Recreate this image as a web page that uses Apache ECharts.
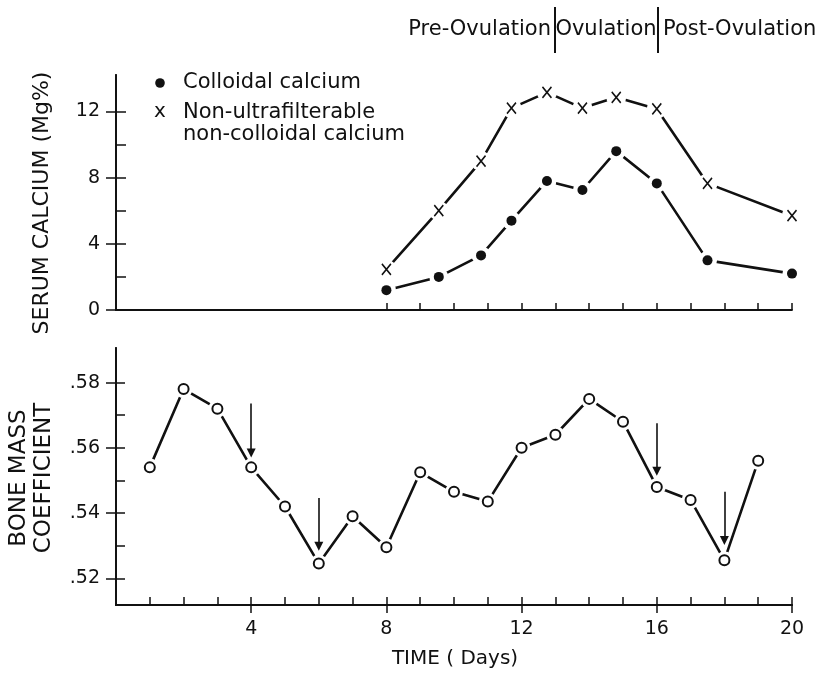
<!DOCTYPE html>
<html>
<head>
<meta charset="utf-8">
<script src="https://cdn.jsdelivr.net/npm/echarts@6/dist/echarts.min.js"></script>
<style>
  html, body { margin: 0; padding: 0; background: #fff; }
  #chart { width: 834px; height: 673px; }
</style>
</head>
<body>
<div id="chart"></div>
<script>
// top panel: serum calcium (Mg%)
const topDays = [8, 9.55, 10.8, 11.7, 12.75, 13.8, 14.8, 16, 17.5, 20];
const colloidal = [1.2, 2.0, 3.3, 5.4, 7.8, 7.25, 9.6, 7.65, 3.0, 2.2];
const nonColloidal = [2.45, 6.0, 9.0, 12.2, 13.15, 12.2, 12.85, 12.15, 7.65, 5.7];

// bottom panel: bone mass coefficient
const boneDays = [1, 2, 3, 4, 5, 6, 7, 8, 9, 10, 11, 12, 13, 14, 15, 16, 17, 18, 19];
const boneMass = [0.554, 0.578, 0.572, 0.554, 0.542, 0.5245, 0.539, 0.5295, 0.5525, 0.5465,
                  0.5435, 0.560, 0.564, 0.575, 0.568, 0.548, 0.544, 0.5255, 0.556];

// arrows above selected days
const arrowDays = [4, 6, 16, 18];
const arrowTop = [0.5736, 0.5446, 0.5675, 0.5465];
const arrowTip = [0.5584, 0.5298, 0.5528, 0.5316];

// ticks / labels
const topYLabels = [0, 4, 8, 12];
const topYMinor = [2, 4, 6, 8, 10, 12];
const topXTicks = [8, 9, 10, 11, 12, 13, 14, 15, 16, 17, 18, 19, 20];
const boneYLabels = [0.52, 0.54, 0.56, 0.58];
const boneYMinor = [0.52, 0.53, 0.54, 0.55, 0.56, 0.57, 0.58];
const xLabels = [4, 8, 12, 16, 20];
const xMinor = [1, 2, 3, 4, 5, 6, 7, 8, 9, 10, 11, 12, 13, 14, 15, 16, 17, 18, 19, 20];
const phases = ['Pre-Ovulation', 'Ovulation', 'Post-Ovulation'];

const FONT = 'DejaVu Sans';
const INK = '#111';

const zip = (xs, ys) => xs.map((x, i) => [x, ys[i]]);
const xPath = 'path://M0,0L9,11M9,0L0,11';

var myChart = echarts.init(document.getElementById('chart'));

var axisLine = { show: true, onZero: false, lineStyle: { color: INK, width: 1.8 } };

var option = {
  animation: false,
  backgroundColor: '#fff',
  grid: [
    { left: 116, top: 75, width: 676, height: 235 },
    { left: 116, top: 348, width: 676, height: 257 }
  ],
  xAxis: [
    { // top panel x (no labels)
      type: 'value', gridIndex: 0, min: 0, max: 20, position: 'bottom',
      axisLine: axisLine,
      axisTick: { show: true, inside: true, length: 7, customValues: topXTicks, lineStyle: { color: INK, width: 1.5 } },
      axisLabel: { show: false },
      splitLine: { show: false }
    },
    { // bottom panel x, minor ticks inside
      type: 'value', gridIndex: 1, min: 0, max: 20, position: 'bottom',
      axisLine: axisLine,
      axisTick: { show: true, inside: true, length: 8, customValues: xMinor, lineStyle: { color: INK, width: 1.5 } },
      axisLabel: { show: false },
      splitLine: { show: false }
    },
    { // bottom panel x, major ticks outside + labels
      type: 'value', gridIndex: 1, min: 0, max: 20, position: 'bottom',
      axisLine: axisLine,
      axisTick: { show: true, inside: false, length: 8, customValues: xLabels, lineStyle: { color: INK, width: 1.5 } },
      axisLabel: { show: true, customValues: xLabels, margin: 15, color: INK, fontFamily: FONT, fontSize: 19 },
      splitLine: { show: false }
    }
  ],
  yAxis: [
    {
      type: 'value', gridIndex: 0, min: 0, max: 14.2, position: 'left',
      axisLine: axisLine,
      axisTick: { show: true, inside: true, length: 10, customValues: topYMinor, lineStyle: { color: INK, width: 1.5 } },
      axisLabel: { show: false },
      splitLine: { show: false }
    },
    {
      type: 'value', gridIndex: 0, min: 0, max: 14.2, position: 'left',
      axisLine: axisLine,
      axisTick: { show: true, inside: false, length: 10, customValues: topYLabels, lineStyle: { color: INK, width: 1.5 } },
      axisLabel: { show: true, customValues: topYLabels, margin: 16, color: INK, fontFamily: FONT, fontSize: 19 },
      splitLine: { show: false }
    },
    {
      type: 'value', gridIndex: 1, min: 0.5118, max: 0.5906, position: 'left',
      axisLine: axisLine,
      axisTick: { show: true, inside: true, length: 9, customValues: boneYMinor, lineStyle: { color: INK, width: 1.5 } },
      axisLabel: { show: false },
      splitLine: { show: false }
    },
    {
      type: 'value', gridIndex: 1, min: 0.5118, max: 0.5906, position: 'left',
      axisLine: axisLine,
      axisTick: { show: true, inside: false, length: 10, customValues: boneYLabels, lineStyle: { color: INK, width: 1.5 } },
      axisLabel: {
        show: true, customValues: boneYLabels, margin: 16, color: INK, fontFamily: FONT, fontSize: 19,
        formatter: function (v) { return v.toFixed(2).slice(1); }
      },
      splitLine: { show: false }
    }
  ],
  graphic: [
    // phase header
    { type: 'text', x: 551, y: 30, style: { text: phases[0], textAlign: 'right', textVerticalAlign: 'middle', font: '21px "DejaVu Sans"', fill: INK } },
    { type: 'text', x: 606, y: 30, style: { text: phases[1], textAlign: 'center', textVerticalAlign: 'middle', font: '21px "DejaVu Sans"', fill: INK } },
    { type: 'text', x: 663, y: 30, style: { text: phases[2], textAlign: 'left', textVerticalAlign: 'middle', font: '21px "DejaVu Sans"', fill: INK } },
    { type: 'line', shape: { x1: 555, y1: 7, x2: 555, y2: 53 }, style: { stroke: INK, lineWidth: 2 } },
    { type: 'line', shape: { x1: 658, y1: 7, x2: 658, y2: 53 }, style: { stroke: INK, lineWidth: 2 } },
    // legend
    { type: 'circle', shape: { cx: 160, cy: 83, r: 4.8 }, style: { fill: INK } },
    { type: 'text', x: 183, y: 83, style: { text: 'Colloidal calcium', textVerticalAlign: 'middle', font: '21px "DejaVu Sans"', fill: INK } },
    { type: 'text', x: 160, y: 112, style: { text: 'x', textAlign: 'center', textVerticalAlign: 'middle', font: '20px "DejaVu Sans"', fill: INK } },
    { type: 'text', x: 183, y: 102, style: { text: 'Non-ultrafilterable\nnon-colloidal calcium', textVerticalAlign: 'top', lineHeight: 22, font: '21px "DejaVu Sans"', fill: INK } },
    // axis titles
    { type: 'text', x: 42, y: 203, rotation: Math.PI / 2, style: { text: 'SERUM CALCIUM (Mg%)', textAlign: 'center', textVerticalAlign: 'middle', font: '22px "DejaVu Sans"', fill: INK } },
    { type: 'text', x: 32, y: 478, rotation: Math.PI / 2, style: { text: 'BONE MASS\nCOEFFICIENT', textAlign: 'center', textVerticalAlign: 'middle', lineHeight: 25, font: '23px "DejaVu Sans"', fill: INK } },
    { type: 'text', x: 455, y: 659, style: { text: 'TIME ( Days)', textAlign: 'center', textVerticalAlign: 'middle', font: '20px "DejaVu Sans"', fill: INK } }
  ],
  series: [
    // top panel lines
    { type: 'line', xAxisIndex: 0, yAxisIndex: 0, data: zip(topDays, colloidal), symbol: 'none', z: 2, silent: true,
      lineStyle: { color: INK, width: 2.6 } },
    { type: 'line', xAxisIndex: 0, yAxisIndex: 0, data: zip(topDays, nonColloidal), symbol: 'none', z: 2, silent: true,
      lineStyle: { color: INK, width: 2.6 } },
    // white gaps around markers
    { type: 'scatter', xAxisIndex: 0, yAxisIndex: 0, data: zip(topDays, colloidal), symbol: 'circle', symbolSize: 19, z: 3, silent: true,
      itemStyle: { color: '#fff', opacity: 1 } },
    { type: 'scatter', xAxisIndex: 0, yAxisIndex: 0, data: zip(topDays, nonColloidal), symbol: 'circle', symbolSize: 20, z: 3, silent: true,
      itemStyle: { color: '#fff', opacity: 1 } },
    // markers
    { type: 'scatter', xAxisIndex: 0, yAxisIndex: 0, data: zip(topDays, colloidal), symbol: 'circle', symbolSize: 10, z: 4, silent: true,
      itemStyle: { color: INK, opacity: 1 } },
    { type: 'scatter', xAxisIndex: 0, yAxisIndex: 0, data: zip(topDays, nonColloidal), symbol: xPath, symbolSize: [9, 11], z: 4, silent: true,
      itemStyle: { color: 'none', borderColor: INK, borderWidth: 1.7, opacity: 1 } },

    // bottom panel
    { type: 'line', xAxisIndex: 1, yAxisIndex: 2, data: zip(boneDays, boneMass), symbol: 'none', z: 2, silent: true,
      lineStyle: { color: INK, width: 2.6 } },
    { type: 'scatter', xAxisIndex: 1, yAxisIndex: 2, data: zip(boneDays, boneMass), symbol: 'circle', symbolSize: 18, z: 3, silent: true,
      itemStyle: { color: '#fff', opacity: 1 } },
    { type: 'scatter', xAxisIndex: 1, yAxisIndex: 2, data: zip(boneDays, boneMass), symbol: 'circle', symbolSize: 10, z: 4, silent: true,
      itemStyle: { color: '#fff', borderColor: INK, borderWidth: 2, opacity: 1 },
      markLine: {
        silent: true,
        animation: false,
        symbol: ['none', 'triangle'],
        symbolSize: 9,
        label: { show: false },
        lineStyle: { color: INK, width: 1.6, type: 'solid', opacity: 1 },
        itemStyle: { color: INK },
        data: arrowDays.map(function (d, i) {
          return [{ coord: [d, arrowTop[i]] }, { coord: [d, arrowTip[i]] }];
        })
      }
    }
  ]
};

myChart.setOption(option);
window.addEventListener('resize', function () { myChart.resize(); });
</script>
</body>
</html>
